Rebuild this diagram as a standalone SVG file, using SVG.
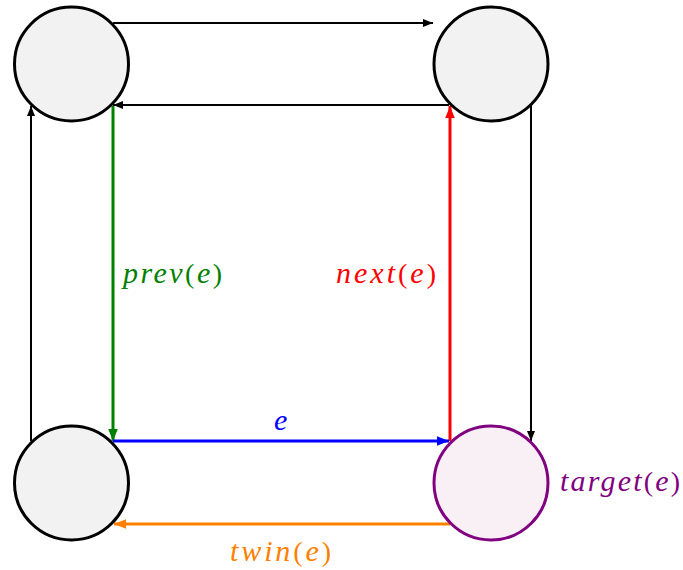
<svg xmlns="http://www.w3.org/2000/svg" width="683" height="570" viewBox="0 0 683 570">
<style>
.node{fill:#f2f2f2;stroke:#000;stroke-width:3}
.tgt{fill:#f9f0f6;stroke:#800080;stroke-width:3}
.thin{fill:none;stroke:#000;stroke-width:2}
.thick{fill:none;stroke-width:3}
.lbl{font-family:"Liberation Serif",serif;font-style:italic;font-size:30px}
.up{font-style:normal;font-size:28px}
</style>
<defs>
<marker id="ak" viewBox="0 0 10 10" refX="10" refY="5" markerWidth="10" markerHeight="10" markerUnits="userSpaceOnUse" orient="auto"><path d="M0,1 L10,5 L0,9 z" fill="#000"/></marker>
<marker id="ag" viewBox="0 0 10 10" refX="10" refY="5" markerWidth="12" markerHeight="12" markerUnits="userSpaceOnUse" orient="auto"><path d="M0,1 L10,5 L0,9 z" fill="#008000"/></marker>
<marker id="ar" viewBox="0 0 10 10" refX="10" refY="5" markerWidth="12" markerHeight="12" markerUnits="userSpaceOnUse" orient="auto"><path d="M0,1 L10,5 L0,9 z" fill="#ff0000"/></marker>
<marker id="ab" viewBox="0 0 10 10" refX="10" refY="5" markerWidth="12" markerHeight="12" markerUnits="userSpaceOnUse" orient="auto"><path d="M0,1 L10,5 L0,9 z" fill="#0000ff"/></marker>
<marker id="ao" viewBox="0 0 10 10" refX="10" refY="5" markerWidth="12" markerHeight="12" markerUnits="userSpaceOnUse" orient="auto"><path d="M0,1 L10,5 L0,9 z" fill="#ff8000"/></marker>
</defs>
<g id="connectors">
<line class="thin" x1="113" y1="23" x2="433" y2="23" marker-end="url(#ak)"/>
<line class="thin" x1="449" y1="105" x2="113" y2="105" marker-end="url(#ak)"/>
<line class="thin" x1="31" y1="441" x2="31" y2="106" marker-end="url(#ak)"/>
<line class="thin" x1="531" y1="105" x2="531" y2="441" marker-end="url(#ak)"/>
<line class="thick" stroke="#008000" x1="113" y1="106" x2="113" y2="441" marker-end="url(#ag)"/>
<line class="thick" stroke="#ff0000" x1="450" y1="441" x2="450" y2="106" marker-end="url(#ar)"/>
<line class="thick" stroke="#0000ff" x1="113" y1="441" x2="449" y2="441" marker-end="url(#ab)"/>
<line class="thick" stroke="#ff8000" x1="450" y1="524" x2="114" y2="524" marker-end="url(#ao)"/>
<text class="lbl" x="123" y="283" fill="#008000" textLength="99">prev<tspan class="up">(</tspan>e<tspan class="up">)</tspan></text>
<text class="lbl" x="336" y="283" fill="#ff0000" textLength="100">next<tspan class="up">(</tspan>e<tspan class="up">)</tspan></text>
<text class="lbl" x="274" y="430" fill="#0000ff">e</text>
<text class="lbl" x="230" y="561" fill="#ff8000" textLength="101">twin<tspan class="up">(</tspan>e<tspan class="up">)</tspan></text>
</g>
<g id="n1"><circle class="node" cx="71.5" cy="64" r="57"/></g>
<g id="n2"><circle class="node" cx="491" cy="64" r="57"/></g>
<g id="n3"><circle class="node" cx="71.5" cy="483" r="57"/></g>
<g id="n4"><circle class="tgt" cx="491" cy="483" r="57"/>
<text class="lbl" x="560" y="491" fill="#800080" textLength="120">target<tspan class="up">(</tspan>e<tspan class="up">)</tspan></text></g>
</svg>
